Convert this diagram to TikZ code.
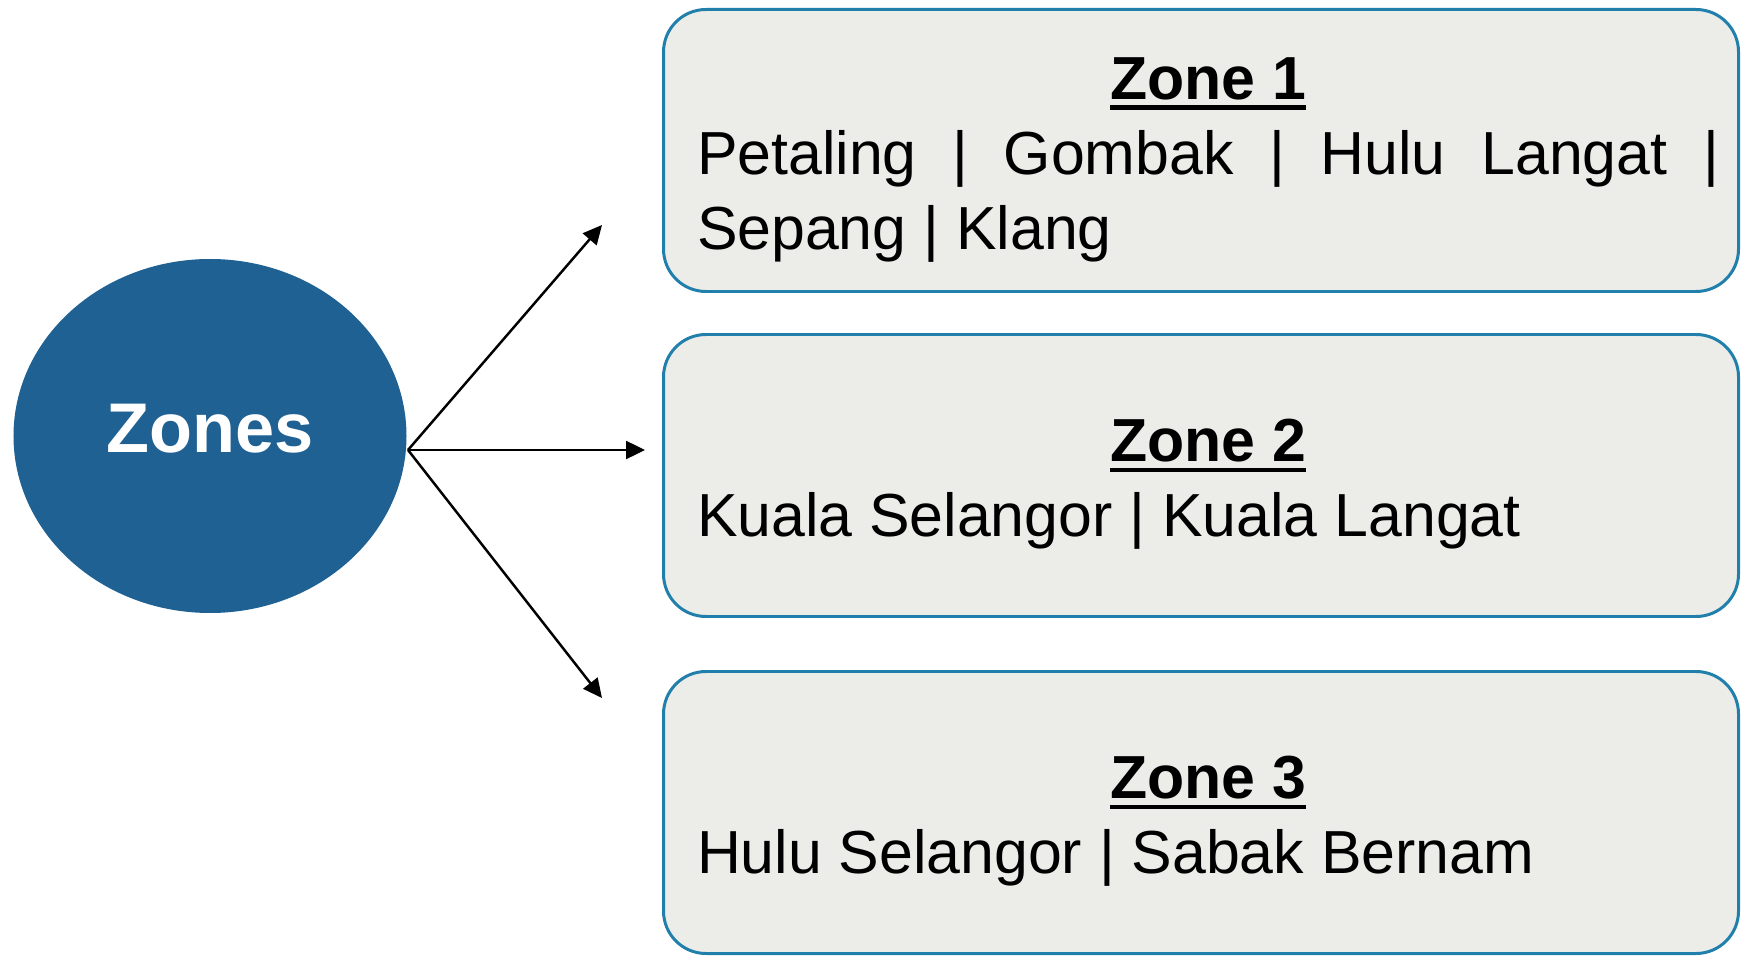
\documentclass[tikz,border=0pt]{standalone}
\usepackage{fontspec}
\setmainfont{Liberation Sans}
\usepackage{xcolor}
\usepackage{tikz}
\usetikzlibrary{shapes.geometric, arrows.meta}
\definecolor{zoneblue}{HTML}{1F6193}
\definecolor{boxedge}{HTML}{2080AB}
\definecolor{boxfill}{HTML}{ECECE9}
\newcommand{\zonehead}[1]{\setbox0\hbox{\bfseries #1}%
\rlap{\vrule height -3.2pt depth 6pt width \wd0}\box0}
\tikzstyle{hub} = [ellipse, 
minimum width=7.86cm, 
minimum height=7.08cm,
text depth=0.3cm,
fill=zoneblue, 
text=white,
font=\fontsize{40}{48}\selectfont\bfseries]
\tikzstyle{zonebox} = [rectangle, rounded corners=0.85cm, 
minimum width=21.5cm, 
minimum height=5.64cm, 
line width=1.7pt,
draw=boxedge, 
fill=boxfill]
\tikzstyle{zonetext} = [text width=20.44cm, 
inner sep=0pt,
align=justify,
font=\fontsize{34.6}{42.7}\selectfont]
\tikzstyle{arrow} = [line width=1.4pt,-{Triangle[length=0.38cm,width=0.36cm]}]

\begin{document}
\begin{tikzpicture}[node distance=6.5cm]
\useasboundingbox (0,0) rectangle (34.82,19.10);

\node (zones) [hub] at (4.20,10.38) {Zones};

\node (zone1) [zonebox] at (24.02,16.09) {};
\node (zone2) [zonebox, below of=zone1] {};
\node (zone3) [zonebox, below of=zone2, yshift=-0.24cm] {};

% text of the boxes
\node (zone1txt) [zonetext] at ([xshift=0.14cm]zone1.center) {{\centering\rule{0pt}{1em}\zonehead{Zone 1}\par}
Petaling~| Gombak~| Hulu Langat~| \mbox{Sepang}~| Klang};
\node (zone2txt) [zonetext] at ([xshift=0.14cm]zone2.center) {{\centering\rule{0pt}{1em}\zonehead{Zone 2}\par}
Kuala Selangor | Kuala Langat};
\node (zone3txt) [zonetext] at ([xshift=0.14cm]zone3.center) {{\centering\rule{0pt}{1em}\zonehead{Zone 3}\par}
Hulu Selangor | Sabak Bernam};

% fan of arrows out of the ellipse
\coordinate (fork) at (8.16,10.10);
\coordinate (tip1) at (12.04,14.60);
\coordinate (tip2) at (12.90,10.10);
\coordinate (tip3) at (12.04,5.14);

\draw [arrow] (fork) -- (tip1);
\draw [arrow] (fork) -- (tip2);
\draw [arrow] (fork) -- (tip3);

\end{tikzpicture}
\end{document}
